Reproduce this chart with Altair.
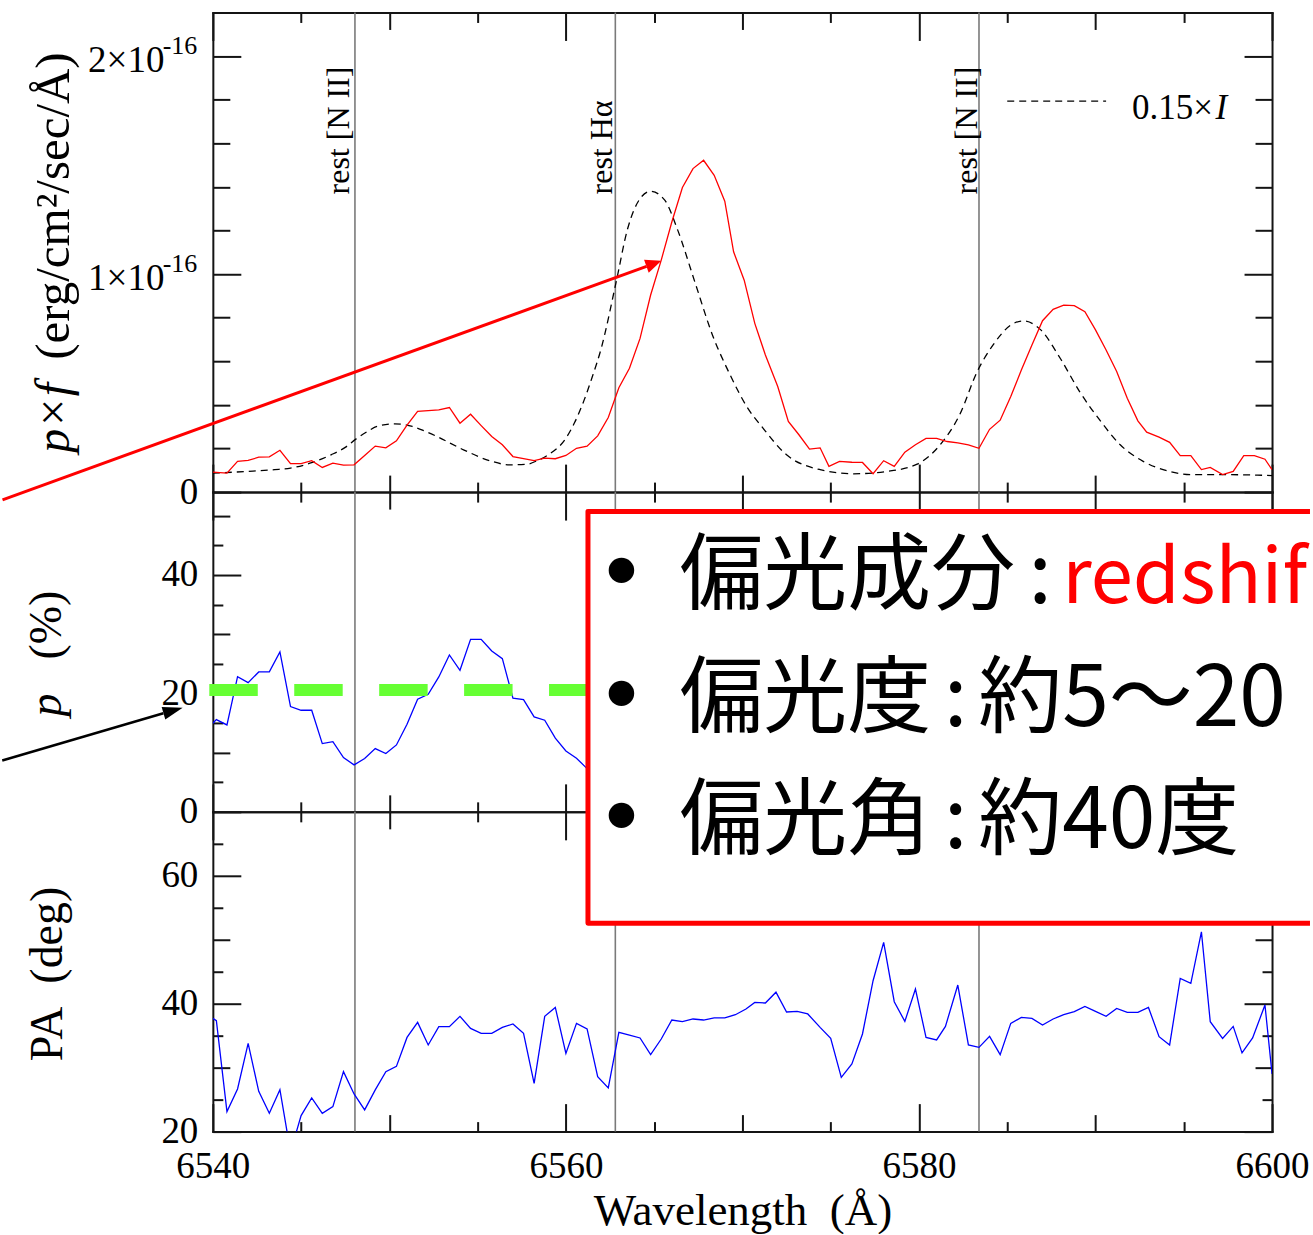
import altair as alt
import pandas as pd
from itertools import zip_longest

# ---------------- data ----------------
# p x f (units of 1e-16 erg/cm2/sec/A), red curve
pf_red = [(6540.0,0.092),(6540.8,0.087),(6541.4,0.141),(6542.0,0.145),(6542.6,0.160),(6543.2,0.162),
          (6543.8,0.192),(6544.4,0.131),(6545.0,0.131),(6545.6,0.144),(6546.2,0.113),(6546.8,0.133),
          (6547.4,0.124),(6548.0,0.125),(6548.6,0.168),(6549.2,0.211),(6549.8,0.203),(6550.4,0.235),
          (6551.0,0.307),(6551.6,0.370),(6552.2,0.374),(6552.8,0.377),(6553.4,0.388),(6554.0,0.316),
          (6554.6,0.357),(6555.2,0.305),(6555.8,0.255),(6556.4,0.217),(6557.0,0.163),(6557.6,0.154),
          (6558.2,0.144),(6558.8,0.156),(6559.4,0.153),(6560.0,0.168),(6560.6,0.201),(6561.2,0.211),
          (6561.8,0.258),(6562.4,0.342),(6563.0,0.479),(6563.6,0.568),(6564.2,0.705),(6564.8,0.904),
          (6565.4,1.064),(6566.0,1.239),(6566.6,1.397),(6567.2,1.484),(6567.8,1.522),(6568.4,1.453),
          (6569.0,1.334),(6569.5,1.102),(6570.1,0.972),(6570.7,0.774),(6571.3,0.629),(6572.0,0.484),
          (6572.6,0.324),(6573.2,0.263),(6573.8,0.197),(6574.4,0.203),(6574.9,0.118),(6575.5,0.141),
          (6576.2,0.137),(6576.8,0.136),(6577.4,0.084),(6578.0,0.144),(6578.6,0.118),(6579.2,0.183),
          (6579.8,0.217),(6580.4,0.246),(6581.0,0.246),(6581.6,0.232),(6582.2,0.226),(6582.8,0.217),
          (6583.4,0.201),(6584.0,0.288),(6584.6,0.330),(6585.2,0.438),(6585.8,0.560),(6586.4,0.675),
          (6587.0,0.786),(6587.6,0.838),(6588.2,0.858),(6588.8,0.855),(6589.4,0.827),(6590.0,0.744),
          (6590.6,0.652),(6591.2,0.553),(6591.8,0.430),(6592.4,0.327),(6592.9,0.275),(6593.6,0.252),
          (6594.2,0.228),(6594.8,0.167),(6595.4,0.167),(6596.0,0.103),(6596.5,0.113),(6597.2,0.080),
          (6597.8,0.095),(6598.4,0.167),(6599.0,0.167),(6599.6,0.151),(6600.0,0.103)]

# 0.15 x I, dashed black curve
pf_total = [(6540.0,0.087),(6542.0,0.095),(6543.5,0.103),(6544.4,0.110),(6545.6,0.135),(6546.7,0.171),
            (6547.5,0.205),(6548.1,0.243),(6548.8,0.280),(6549.3,0.301),(6550.3,0.313),(6551.3,0.301),
            (6552.0,0.280),(6552.7,0.255),(6554.2,0.194),(6555.8,0.141),(6556.8,0.125),(6557.8,0.128),
            (6558.4,0.145),(6559.0,0.171),(6560.0,0.247),(6560.5,0.320),(6561.0,0.415),(6561.5,0.530),
            (6562.0,0.659),(6562.85,0.965),(6563.5,1.209),(6564.2,1.346),(6564.8,1.380),(6565.6,1.339),
            (6566.3,1.209),(6567.3,0.965),(6568.3,0.721),(6569.3,0.538),(6570.3,0.385),(6571.1,0.300),
            (6572.5,0.171),(6574.4,0.103),(6576.3,0.084),(6578.2,0.095),(6579.9,0.128),(6581.2,0.217),
            (6582.3,0.354),(6583.3,0.553),(6584.2,0.675),(6585.2,0.766),(6585.9,0.785),(6586.9,0.744),
            (6588.0,0.614),(6589.1,0.461),(6590.3,0.324),(6591.4,0.217),(6592.7,0.141),(6594.2,0.095),
            (6595.5,0.080),(6597.4,0.080),(6600.0,0.076)]

# polarization degree p (%), visible part
pol_deg = [(6540.0,14.97),(6540.2,15.58),(6540.8,14.68),(6541.4,22.83),(6542.0,21.82),(6542.6,23.63),
           (6543.2,23.63),(6543.8,27.0),(6544.4,17.77),(6545.0,17.16),(6545.6,17.16),(6546.2,11.53),
           (6546.8,11.86),(6547.4,9.16),(6548.0,7.93),(6548.6,9.0),(6549.2,10.68),(6549.8,9.84),
           (6550.4,11.3),(6551.0,14.8),(6551.6,19.02),(6552.2,19.86),(6552.8,22.78),(6553.4,26.49),
           (6554.0,23.91),(6554.6,29.14),(6555.2,29.14),(6555.8,27.17),(6556.4,25.87),(6557.0,19.19),
           (6557.6,18.95),(6558.2,16.03),(6558.8,15.47),(6559.4,12.44),(6560.0,10.29),(6560.6,9.06),
           (6561.2,7.3)]

# position angle PA (deg)
pol_pa = [(6540.0,37.70),(6540.2,37.34),(6540.8,23.13),(6541.4,26.67),(6542.0,33.80),(6542.6,26.30),
          (6543.2,22.86),(6543.8,26.56),(6544.4,16.8),(6545.0,22.5),(6545.6,25.26),(6546.2,22.86),
          (6546.8,23.9),(6547.4,29.38),(6548.0,25.89),(6548.6,23.39),(6549.2,26.52),(6549.8,29.38),
          (6550.4,30.2),(6551.0,34.73),(6551.6,37.08),(6552.2,33.55),(6552.8,36.41),(6553.4,36.41),
          (6554.0,38.02),(6554.6,36.14),(6555.2,35.36),(6555.8,35.36),(6556.4,36.3),(6557.0,36.83),
          (6557.6,35.36),(6558.2,27.55),(6558.8,38.02),(6559.4,39.42),(6560.0,32.23),(6560.6,36.92),
          (6561.2,36.05),(6561.8,28.59),(6562.4,26.83),(6563.0,35.52),(6563.6,35.1),(6564.2,34.64),
          (6564.8,32.03),(6565.4,34.48),(6566.0,37.45),(6566.6,37.19),(6567.2,37.61),(6567.8,37.45),
          (6568.4,37.77),(6569.0,37.77),(6569.6,38.28),(6570.2,39.17),(6570.7,40.2),(6571.3,40.11),
          (6571.9,41.8),(6572.5,38.7),(6573.1,38.8),(6573.7,38.4),(6574.4,36.3),(6575.0,34.58),
          (6575.6,28.48),(6576.2,30.58),(6576.8,35.27),(6577.4,43.59),(6578.0,49.58),(6578.6,40.31),
          (6579.2,37.23),(6579.8,42.30),(6580.4,34.73),(6581.0,34.33),(6581.5,36.45),(6582.2,42.92),
          (6582.8,33.55),(6583.4,33.17),(6584.0,34.89),(6584.6,32.03),(6585.2,36.92),(6585.8,37.86),
          (6586.4,37.70),(6587.0,36.67),(6587.6,37.61),(6588.2,38.28),(6588.8,38.75),(6589.4,39.58),
          (6590.0,38.8),(6590.6,38.02),(6591.2,39.27),(6591.8,38.64),(6592.4,38.64),(6593.0,39.42),
          (6593.6,34.84),(6594.2,33.55),(6594.8,43.95),(6595.4,43.17),(6596.0,51.25),(6596.5,37.19),
          (6597.2,34.58),(6597.8,36.45),(6598.3,32.3),(6598.9,34.64),(6599.6,39.80),(6600.0,29.0)]

rest_lines = [6548.05, 6562.8, 6583.4]
rest_labels = ["rest [N II]", "rest Hα", "rest [N II]"]
p_level = 20.56

x_major = [6540, 6560, 6580, 6600]
x_mid = [6550, 6570, 6590]
x_minor = [6545, 6555, 6565, 6575, 6585, 6595]
f_major = [0, 1, 2]
f_minor = [0.2, 0.4, 0.6, 0.8, 1.2, 1.4, 1.6, 1.8]
p_major = [0, 20, 40]
p_mid = [10, 30, 50]
p_minor = [5, 15, 25, 35, 45]
pa_major = [20, 40, 60]
pa_mid = [30, 50]
pa_minor = [25, 35, 45, 55, 65]

box_lines = [("偏光成分", "redshift"), ("偏光度", "約5～20%"), ("偏光角", "約40度")]

# ---------------- helpers ----------------
X0, X1 = 6540, 6600
xs = alt.Scale(domain=[X0, X1], nice=False, zero=False)
ys_f = alt.Scale(domain=[0, 2.2], nice=False, zero=False)
ys_p = alt.Scale(domain=[0, 54], nice=False, zero=False)
ys_pa = alt.Scale(domain=[20, 70], nice=False, zero=False)
INK = "#141414"
SERIF = "Liberation Serif"
CJK = "Noto Sans CJK JP"
SP2 = "\u00a0\u00a0"
LBL = dict(labelFont=SERIF, labelFontSize=37, labelColor="black")
TTL = dict(titleFont=SERIF, titleFontSize=46, titleFontWeight="normal", titleColor="black")


def tick_axis(orient, values, size):
    return alt.Axis(orient=orient, values=values, tickSize=size, offset=-size, ticks=True,
                    labels=False, domain=False, grid=False, title=None, tickColor=INK, tickWidth=2)


def frame_axis(orient):
    return alt.Axis(orient=orient, ticks=False, labels=False, domain=True, domainColor=INK,
                    domainWidth=2, domainCap="square", grid=False, title=None, offset=0)


def label_axis(orient, values, **kw):
    d = dict(orient=orient, values=values, ticks=False, labels=True, domain=False, grid=False,
             title=None, offset=0, labelFlush=False, labelOverlap=False, format="d")
    d.update(LBL)
    d.update(kw)
    return alt.Axis(**d)


def ytitle_axis(title, tx, ty, italic=False, size=46):
    d = dict(orient="left", ticks=False, labels=False, domain=False, grid=False, offset=0,
             title=title, titleAngle=270, titleAlign="left", titleBaseline="alphabetic",
             titleX=tx, titleY=ty, titleFontStyle="italic" if italic else "normal")
    d.update(TTL)
    d["titleFontSize"] = size
    return alt.Axis(**d)


def guides(ys, ydom, xaxes, yaxes):
    df = pd.DataFrame({"gx": [X0, X1], "gy": ydom})
    out = []
    for xa, ya in zip_longest(xaxes, yaxes):
        out.append(alt.Chart(df).mark_point(opacity=0).encode(
            x=alt.X("gx:Q", scale=xs, axis=xa), y=alt.Y("gy:Q", scale=ys, axis=ya)))
    return out


def xtick_axes():
    return [tick_axis("bottom", x_major, 28), tick_axis("bottom", x_mid, 17), tick_axis("bottom", x_minor, 10),
            tick_axis("top", x_major, 28), tick_axis("top", x_mid, 17), tick_axis("top", x_minor, 10),
            frame_axis("bottom"), frame_axis("top")]


def series_df(pairs):
    return pd.DataFrame({"x": [a for a, _ in pairs], "y": [b for _, b in pairs]})


def vrules(ys):
    return alt.Chart(pd.DataFrame({"x": rest_lines})).mark_rule(color="#7a7a7a", strokeWidth=1.6).encode(
        x=alt.X("x:Q", scale=xs, axis=None))


def XE(f="x"):
    return alt.X(f"{f}:Q", scale=xs, axis=None)


def YE(ys, f="y"):
    return alt.Y(f"{f}:Q", scale=ys, axis=None)

# ---------------- top panel: p x f ----------------
top_y_axes = [tick_axis("left", f_major, 28), tick_axis("left", f_minor, 17),
              tick_axis("right", f_major, 28), tick_axis("right", f_minor, 17),
              frame_axis("left"), frame_axis("right"),
              label_axis("left", [0], labelPadding=15),
              label_axis("left", [1, 2], labelPadding=49, labelOffset=4,
                         labelExpr="datum.value == 2 ? '2×10' : '1×10'"),
              label_axis("left", [1, 2], labelPadding=16, labelOffset=-11, labelFontSize=26,
                         labelExpr="'-16'"),
              ytitle_axis("p×f", -144, 440, italic=True, size=48),
              ytitle_axis("(erg/cm²/sec/Å)", -144, 347, size=49)]

rest_df = pd.DataFrame({"x": [6547.70, 6562.62, 6583.30], "y": [1.3654] * 3, "t": rest_labels})
rest_text = alt.Chart(rest_df).mark_text(angle=270, align="left", baseline="alphabetic", font=SERIF,
                                         fontSize=32, color="black").encode(
    x=XE(), y=YE(ys_f), text="t:N")

total_line = alt.Chart(series_df(pf_total)).mark_line(color="black", strokeWidth=1.3, strokeDash=[7, 5],
                                                      interpolate="monotone", clip=True).encode(
    x=XE(), y=YE(ys_f))
red_line = alt.Chart(series_df(pf_red)).mark_line(color="#ff0000", strokeWidth=1.3, clip=True).encode(
    x=XE(), y=YE(ys_f))

leg_line = alt.Chart(pd.DataFrame({"x": [6585.0, 6590.6], "y": [1.7935, 1.7935]})).mark_line(
    color="black", strokeWidth=1.3, strokeDash=[7, 5]).encode(x=XE(), y=YE(ys_f))
leg_t1 = alt.Chart(pd.DataFrame({"x": [6592.07], "y": [1.7125], "t": ["0.15×"]})).mark_text(
    align="left", baseline="alphabetic", font=SERIF, fontSize=35, color="black").encode(
    x=XE(), y=YE(ys_f), text="t:N")
leg_t2 = alt.Chart(pd.DataFrame({"x": [6596.8], "y": [1.7125], "t": ["I"]})).mark_text(
    align="left", baseline="alphabetic", font=SERIF, fontSize=35, fontStyle="italic", color="black").encode(
    x=XE(), y=YE(ys_f), text="t:N")

red_arrow = alt.Chart(pd.DataFrame({"x": [6528.085], "y": [-0.0357], "x2": [6564.57], "y2": [1.0357]})).mark_rule(
    color="#ff0000", strokeWidth=3).encode(x=XE(), y=YE(ys_f), x2="x2:Q", y2="y2:Q")
red_head = alt.Chart(pd.DataFrame({"x": [6565.41], "y": [1.061]})).mark_point(
    shape="M0,0L-2,-0.85L-2,0.85Z", size=256, angle=340, filled=True, opacity=1, color="#ff0000",
    strokeWidth=0).encode(x=XE(), y=YE(ys_f))

top = alt.layer(*guides(ys_f, [0, 2.2], xtick_axes(), top_y_axes),
                vrules(ys_f), rest_text, total_line, red_line, leg_line, leg_t1, leg_t2,
                red_arrow, red_head).resolve_axis(x="independent", y="independent").properties(
    width=1060, height=480)

# ---------------- middle panel: p ----------------
mid_y_axes = [tick_axis("left", p_major, 28), tick_axis("left", p_mid, 17), tick_axis("left", p_minor, 10),
              tick_axis("right", p_major, 28), tick_axis("right", p_mid, 17), tick_axis("right", p_minor, 10),
              frame_axis("left"), frame_axis("right"),
              label_axis("left", p_major, labelPadding=15),
              ytitle_axis("p", -152, 224, italic=True),
              ytitle_axis("(%)", -152, 167)]

p_line = alt.Chart(series_df(pol_deg)).mark_line(color="#0000ff", strokeWidth=1.3, clip=True).encode(
    x=XE(), y=YE(ys_p))
green = alt.Chart(pd.DataFrame({"x": [6539.8], "x2": [6600.0], "y": [p_level]})).mark_rule(
    color="#66ff33", strokeWidth=12, strokeDash=[48.5, 36.5], strokeCap="butt").encode(
    x=XE(), x2="x2:Q", y=YE(ys_p))
blk_arrow = alt.Chart(pd.DataFrame({"x": [6528.07], "y": [8.67], "x2": [6537.2], "y2": [16.66]})).mark_rule(
    color="black", strokeWidth=2.5).encode(x=XE(), y=YE(ys_p), x2="x2:Q", y2="y2:Q")
blk_head = alt.Chart(pd.DataFrame({"x": [6538.29], "y": [17.6]})).mark_point(
    shape="M0,0L-2,-0.65L-2,0.65Z", size=400, angle=343.7, filled=True, opacity=1, color="black",
    strokeWidth=0).encode(x=XE(), y=YE(ys_p))

mid = alt.layer(*guides(ys_p, [0, 54], xtick_axes(), mid_y_axes),
                vrules(ys_p), p_line, green, blk_arrow, blk_head).resolve_axis(
    x="independent", y="independent").properties(width=1060, height=320)

# ---------------- bottom panel: PA ----------------
xt = dict(orient="bottom", ticks=False, labels=False, domain=False, grid=False, offset=0,
          title="Wavelength" + SP2 + "(Å)", titleX=530, titleY=93, titleAlign="center",
          titleBaseline="alphabetic")
xt.update(TTL)
xt["titleFontSize"] = 45
bot_x_axes = xtick_axes() + [label_axis("bottom", x_major, labelPadding=17), alt.Axis(**xt)]
bot_y_axes = [tick_axis("left", pa_major, 28), tick_axis("left", pa_mid, 17), tick_axis("left", pa_minor, 10),
              tick_axis("right", pa_major, 28), tick_axis("right", pa_mid, 17), tick_axis("right", pa_minor, 10),
              frame_axis("left"), frame_axis("right"),
              label_axis("left", pa_major, labelPadding=15),
              ytitle_axis("PA" + SP2 + "(deg)", -151, 249)]

pa_line = alt.Chart(series_df(pol_pa)).mark_line(color="#0000ff", strokeWidth=1.3, clip=True).encode(
    x=XE(), y=YE(ys_pa))

BX0, BX1, BY0, BY1 = 6561.25, 6602.15, 52.58, 116.95
box_fill = alt.Chart(pd.DataFrame({"x": [BX0], "x2": [BX1], "y": [BY0], "y2": [BY1]})).mark_rect(
    color="white", opacity=1).encode(x=XE(), x2="x2:Q", y=YE(ys_pa), y2="y2:Q")
box_edge = alt.Chart(pd.DataFrame({"x": [BX1, BX0, BX0, BX1], "y": [BY1, BY1, BY0, BY0], "o": [0, 1, 2, 3]})).mark_line(
    color="#ff0000", strokeWidth=5, strokeJoin="round", strokeCap="butt").encode(
    x=XE(), y=YE(ys_pa), order="o:Q")

rows_y = [102.66, 83.44, 64.38]
ZW = "\u200b"
bullets = alt.Chart(pd.DataFrame({"x": [6563.15] * 3, "y": rows_y, "t": ["•"] * 3})).mark_text(
    align="center", baseline="alphabetic", font="DejaVu Sans", fontSize=88, color="black").encode(
    x=XE(), y=YE(ys_pa), text="t:N")
keys = alt.Chart(pd.DataFrame({"x": [6566.43] * 3, "y": rows_y, "t": [k for k, _ in box_lines]})).mark_text(
    align="left", baseline="alphabetic", font=CJK, fontSize=84, color="black").encode(
    x=XE(), y=YE(ys_pa), text="t:N")
colons = alt.Chart(pd.DataFrame({"x": [6586.87, 6582.08, 6582.08], "y": rows_y, "t": [":"] * 3})).mark_text(
    align="center", baseline="alphabetic", font=CJK, fontSize=84, color="black").encode(
    x=XE(), y=YE(ys_pa), text="t:N")
val1 = alt.Chart(pd.DataFrame({"x": [6588.11], "y": [rows_y[0]], "t": [box_lines[0][1]]})).mark_text(
    align="left", baseline="alphabetic", font=CJK, fontSize=76, color="#ff0000", limit=250, ellipsis=ZW).encode(
    x=XE(), y=YE(ys_pa), text="t:N")
val23 = alt.Chart(pd.DataFrame({"x": [6583.36] * 2, "y": rows_y[1:], "t": [box_lines[1][1], box_lines[2][1]]})).mark_text(
    align="left", baseline="alphabetic", font=CJK, fontSize=84, color="black", limit=333, ellipsis=ZW).encode(
    x=XE(), y=YE(ys_pa), text="t:N")

bot = alt.layer(*guides(ys_pa, [20, 70], bot_x_axes, bot_y_axes),
                vrules(ys_pa), pa_line, box_fill, box_edge, bullets, keys, colons, val1, val23).resolve_axis(
    x="independent", y="independent").properties(width=1060, height=320)

chart = alt.vconcat(top, mid, bot, spacing=0, bounds="flush").properties(
    padding={"left": 0, "top": 9, "right": 0, "bottom": 0}, background="white"
).configure_view(strokeWidth=0).configure_axis(**LBL, **TTL)

chart.save("out.html", embed_options={"renderer": "svg", "actions": False})
